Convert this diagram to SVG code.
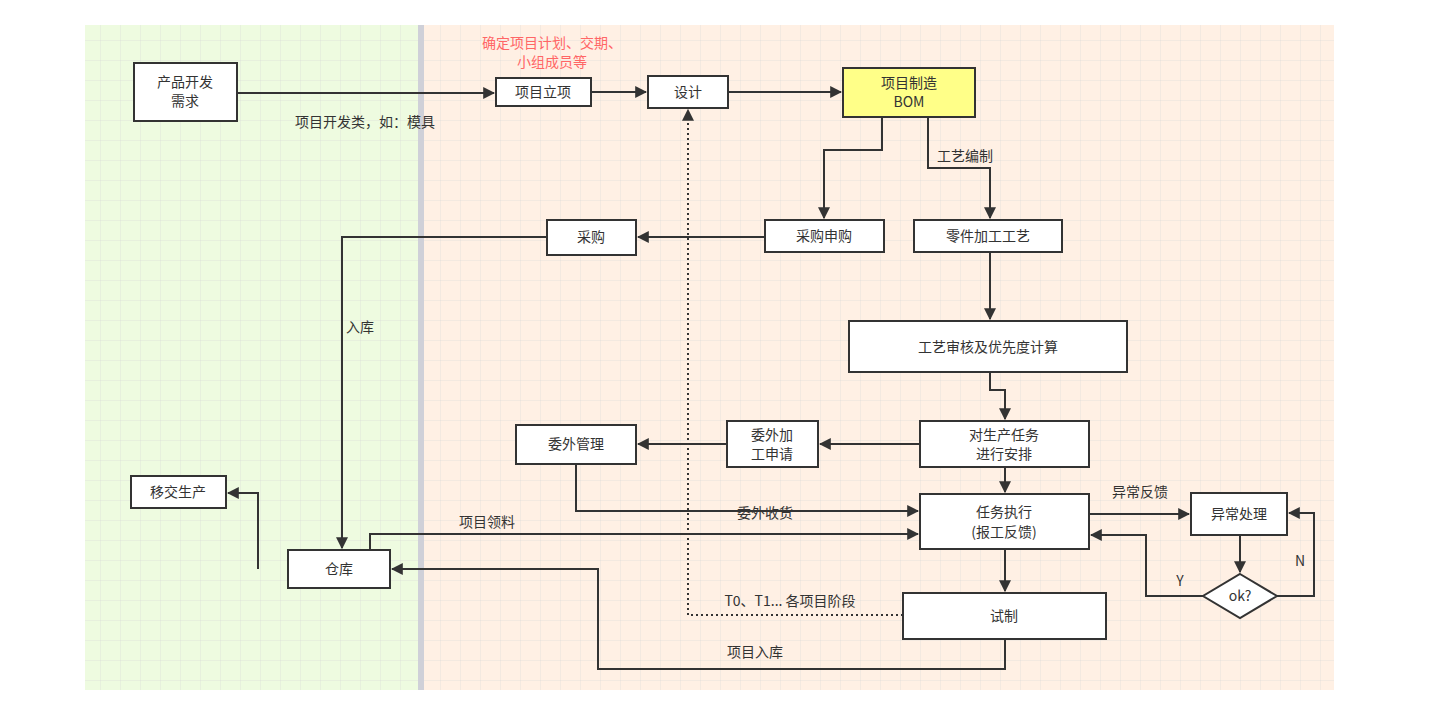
<svg xmlns="http://www.w3.org/2000/svg" width="1435" height="712" viewBox="0 0 1435 712">
<defs>
<pattern id="g" width="20" height="20" patternUnits="userSpaceOnUse"><path d="M20 0H0V20" fill="none" stroke="#d8d8d8" stroke-opacity="0.6" stroke-width="1"/></pattern>
<marker id="a" viewBox="0 0 10 10" refX="9" refY="5" markerWidth="8" markerHeight="8" markerUnits="userSpaceOnUse" orient="auto"><path d="M0 0L10 5L0 10z" fill="#333"/></marker>
<marker id="ab" viewBox="0 0 10 10" refX="9" refY="5" markerWidth="12" markerHeight="12" markerUnits="userSpaceOnUse" orient="auto"><path d="M0 0L10 5L0 10z" fill="#333"/></marker>
</defs>
<style>
.n{fill:#fff;stroke:#333;stroke-width:2}
text{font-family:"Noto Sans CJK SC","Liberation Sans",sans-serif;font-size:14px;fill:#333;text-anchor:middle}
.c path{fill:none;stroke:#333;stroke-width:2;marker-end:url(#ab)}
.r{fill:#ff6666}
</style>
<rect width="1435" height="712" fill="#fff"/>
<rect x="85" y="25" width="333" height="665" fill="#eefbe0"/>
<rect x="424" y="25" width="910" height="665" fill="#fff0e4"/>
<rect x="85" y="25" width="1249" height="665" fill="url(#g)"/>
<rect x="418" y="25" width="6" height="665" fill="#cfd0d8"/>
<text class="r" x="552" y="48">确定项目计划、交期、</text>
<text class="r" x="552" y="67">小组成员等</text>
<g class="c">
<path d="M237 93H494"/>
<path d="M591 92H646"/>
<path d="M728 92H841"/>
<path d="M882 117V150H824V218"/>
<path d="M928 117V168H990V218"/>
<path d="M765 237H638"/>
<path d="M547 237H342V548"/>
<path d="M990 252V319"/>
<path d="M990 372V390H1005V419"/>
<path d="M920 444H820"/>
<path d="M727 444H638"/>
<path d="M576 464V511H918"/>
<path d="M1005 467V492"/>
<path d="M370 550V534H918"/>
<path d="M258 569V493H228"/>
<path d="M1089 514H1189"/>
<path d="M1240 535V572"/>
<path d="M1203 596H1146V535H1091"/>
<path d="M1277 596H1314V513H1289"/>
<path d="M1005 549V591"/>
<path d="M1005 639V669H598V569H392"/>
<path d="M903 615H688V110" stroke-dasharray="2 3"/>
</g>
<g>
<text x="365" y="127">项目开发类，如：模具</text>
<text x="965" y="161">工艺编制</text>
<text x="360" y="332">入库</text>
<text x="765" y="518">委外收货</text>
<text x="487" y="527">项目领料</text>
<text x="1140" y="497">异常反馈</text>
<text x="1180" y="586">Y</text>
<text x="1300" y="566">N</text>
<text x="755" y="657">项目入库</text>
<text x="790" y="606">T0、T1... 各项目阶段</text>
</g>
<g id="n1"><rect class="n" x="134" y="63" width="103" height="58"/><text x="185" y="87">产品开发</text><text x="185" y="106">需求</text></g>
<g id="n2"><rect class="n" x="496" y="78" width="95" height="28"/><text x="543" y="97">项目立项</text></g>
<g id="n3"><rect class="n" x="648" y="76" width="80" height="32"/><text x="688" y="97">设计</text></g>
<g id="n4"><rect class="n" x="843" y="68" width="132" height="49" style="fill:#ffff88"/><text x="909" y="88">项目制造</text><text x="909" y="107">BOM</text></g>
<g id="n5"><rect class="n" x="765" y="220" width="119" height="32"/><text x="824" y="241">采购申购</text></g>
<g id="n6"><rect class="n" x="914" y="220" width="148" height="32"/><text x="988" y="241">零件加工工艺</text></g>
<g id="n7"><rect class="n" x="547" y="220" width="89" height="35"/><text x="591" y="242">采购</text></g>
<g id="n8"><rect class="n" x="849" y="321" width="278" height="51"/><text x="988" y="352">工艺审核及优先度计算</text></g>
<g id="n9"><rect class="n" x="920" y="421" width="169" height="46"/><text x="1004" y="440">对生产任务</text><text x="1004" y="459">进行安排</text></g>
<g id="n10"><rect class="n" x="727" y="421" width="91" height="46"/><text x="772" y="440">委外加</text><text x="772" y="459">工申请</text></g>
<g id="n11"><rect class="n" x="516" y="425" width="120" height="39"/><text x="576" y="449">委外管理</text></g>
<g id="n12"><rect class="n" x="920" y="494" width="169" height="55"/><text x="1004" y="517">任务执行</text><text x="1004" y="537">(报工反馈)</text></g>
<g id="n13"><rect class="n" x="1191" y="493" width="96" height="42"/><text x="1239" y="519">异常处理</text></g>
<g id="n14"><path class="n" d="M1240 574L1277 596L1240 618L1203 596Z"/><text x="1240" y="601">ok?</text></g>
<g id="n15"><rect class="n" x="903" y="593" width="203" height="46"/><text x="1004" y="621">试制</text></g>
<g id="n16"><rect class="n" x="131" y="476" width="95" height="32"/><text x="178" y="497">移交生产</text></g>
<g id="n17"><rect class="n" x="288" y="550" width="102" height="38"/><text x="339" y="574">仓库</text></g>
</svg>
